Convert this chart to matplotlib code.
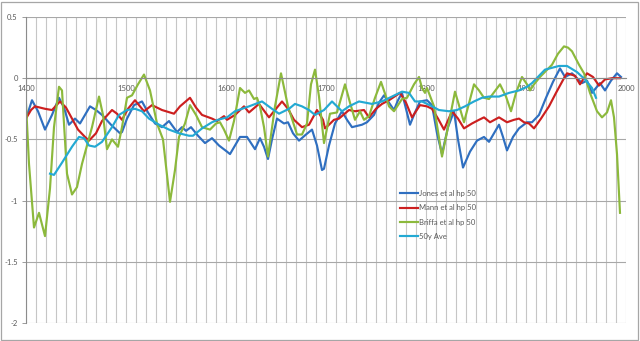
import numpy as np
import matplotlib
matplotlib.use("Agg")
import matplotlib.pyplot as plt
from matplotlib.patches import Rectangle

#################################################################
# series values (50 yr high-pass reconstructions + 50 yr average)
#################################################################

jones_years = [1400, 1406, 1412, 1419, 1426, 1433, 1438, 1443, 1449, 1454, 1459, 1464, 1470, 1476, 1485, 1494,
               1496, 1501, 1508, 1516, 1522, 1529, 1536, 1543, 1551, 1556, 1560, 1565, 1572, 1579, 1586, 1593,
               1601, 1604, 1609, 1614, 1621, 1629, 1634, 1638, 1642, 1646, 1651, 1658, 1662, 1667, 1673, 1680,
               1686, 1691, 1696, 1698, 1703, 1709, 1716, 1721, 1726, 1736, 1741, 1748, 1753, 1758, 1763, 1768,
               1772, 1776, 1780, 1784, 1789, 1794, 1801, 1806, 1811, 1816, 1822, 1828, 1832, 1837, 1844, 1851,
               1858, 1863, 1868, 1873, 1877, 1881, 1887, 1893, 1901, 1906, 1913, 1920, 1927, 1934, 1939, 1946,
               1951, 1956, 1961, 1966, 1974, 1979, 1985, 1991, 1995]
jones_vals = [-0.33, -0.18, -0.27, -0.42, -0.30, -0.16, -0.24, -0.38, -0.33, -0.37, -0.30, -0.23, -0.26, -0.30, -0.38, -0.45,
              -0.44, -0.33, -0.22, -0.19, -0.28, -0.37, -0.40, -0.35, -0.44, -0.40, -0.43, -0.40, -0.47, -0.53, -0.49, -0.55,
              -0.60, -0.62, -0.55, -0.48, -0.48, -0.58, -0.49, -0.56, -0.66, -0.50, -0.33, -0.37, -0.36, -0.45, -0.51, -0.46,
              -0.42, -0.55, -0.75, -0.74, -0.55, -0.37, -0.27, -0.34, -0.40, -0.38, -0.36, -0.30, -0.20, -0.14, -0.20, -0.26,
              -0.18, -0.12, -0.25, -0.38, -0.28, -0.19, -0.18, -0.22, -0.45, -0.62, -0.40, -0.27, -0.50, -0.73, -0.60, -0.51,
              -0.48, -0.52, -0.45, -0.38, -0.48, -0.59, -0.48, -0.41, -0.36, -0.36, -0.30, -0.16, -0.03, 0.08, 0.01, 0.04,
              0.00, -0.04, -0.02, -0.12, -0.04, -0.10, -0.02, 0.04, 0.01]

mann_years = [1400, 1405, 1409, 1419, 1426, 1434, 1440, 1446, 1452, 1459, 1463, 1470, 1476, 1486, 1491, 1496,
              1502, 1509, 1518, 1526, 1536, 1548, 1554, 1564, 1570, 1576, 1586, 1591, 1598, 1601, 1609, 1618,
              1623, 1633, 1643, 1650, 1656, 1662, 1668, 1676, 1683, 1691, 1697, 1699, 1703, 1708, 1713, 1723,
              1729, 1738, 1743, 1750, 1756, 1763, 1774, 1780, 1786, 1794, 1801, 1806, 1812, 1818, 1826, 1832,
              1838, 1846, 1853, 1858, 1864, 1873, 1881, 1888, 1893, 1898, 1903, 1908, 1915, 1923, 1930, 1938,
              1941, 1949, 1954, 1961, 1967, 1973, 1979, 1986, 1994]
mann_vals = [-0.33, -0.26, -0.23, -0.25, -0.26, -0.19, -0.24, -0.33, -0.42, -0.48, -0.51, -0.45, -0.35, -0.26, -0.29, -0.34,
             -0.25, -0.18, -0.27, -0.22, -0.26, -0.29, -0.23, -0.16, -0.24, -0.30, -0.33, -0.35, -0.31, -0.34, -0.30, -0.23,
             -0.28, -0.21, -0.32, -0.25, -0.19, -0.25, -0.34, -0.40, -0.38, -0.26, -0.34, -0.41, -0.38, -0.34, -0.33, -0.26,
             -0.27, -0.26, -0.32, -0.25, -0.21, -0.18, -0.12, -0.20, -0.32, -0.22, -0.23, -0.25, -0.33, -0.42, -0.27, -0.33,
             -0.41, -0.37, -0.34, -0.32, -0.36, -0.32, -0.36, -0.34, -0.33, -0.36, -0.37, -0.41, -0.33, -0.23, -0.12, 0.00,
             0.04, 0.02, -0.05, 0.04, 0.01, -0.06, -0.01, 0.00, 0.00]

briffa_years = [1400, 1403, 1408, 1413, 1419, 1424, 1428, 1433, 1436, 1441, 1446, 1451, 1456, 1461, 1466, 1473,
                1477, 1481, 1486, 1492, 1496, 1501, 1506, 1512, 1518, 1524, 1531, 1537, 1544, 1549, 1553, 1559,
                1564, 1570, 1576, 1584, 1590, 1594, 1598, 1603, 1608, 1614, 1619, 1623, 1628, 1631, 1634, 1638,
                1642, 1649, 1655, 1662, 1671, 1676, 1681, 1685, 1689, 1693, 1698, 1704, 1711, 1719, 1724, 1729,
                1734, 1738, 1743, 1749, 1755, 1760, 1763, 1768, 1776, 1781, 1788, 1793, 1796, 1799, 1801, 1808,
                1816, 1822, 1829, 1838, 1848, 1853, 1858, 1863, 1874, 1880, 1885, 1890, 1896, 1901, 1904, 1908,
                1914, 1926, 1932, 1938, 1942, 1946, 1953, 1958, 1964, 1971, 1976, 1981, 1985, 1988, 1991, 1994]
briffa_vals = [-0.21, -0.70, -1.22, -1.10, -1.29, -0.90, -0.40, -0.07, -0.10, -0.78, -0.95, -0.89, -0.70, -0.55, -0.40, -0.15,
               -0.30, -0.58, -0.50, -0.56, -0.40, -0.16, -0.14, -0.05, 0.03, -0.10, -0.37, -0.50, -1.01, -0.75, -0.48, -0.37,
               -0.22, -0.30, -0.40, -0.42, -0.37, -0.36, -0.42, -0.51, -0.35, -0.08, -0.12, -0.10, -0.17, -0.16, -0.23, -0.40,
               -0.64, -0.23, 0.04, -0.23, -0.46, -0.46, -0.37, -0.05, 0.07, -0.15, -0.53, -0.29, -0.28, -0.05, -0.20, -0.34,
               -0.27, -0.34, -0.31, -0.16, -0.03, -0.15, -0.23, -0.27, -0.17, -0.16, -0.05, 0.01, -0.08, -0.12, -0.08, -0.23,
               -0.64, -0.40, -0.11, -0.36, -0.05, -0.10, -0.16, -0.17, -0.05, -0.15, -0.27, -0.12, 0.01, -0.05, -0.10, -0.05,
               0.01, 0.11, 0.20, 0.26, 0.25, 0.22, 0.11, 0.04, -0.12, -0.27, -0.32, -0.28, -0.18, -0.32, -0.62, -1.10]

ave_years = [1424, 1428, 1436, 1446, 1453, 1458, 1463, 1469, 1476, 1486, 1493, 1501, 1509, 1516, 1523, 1533,
             1543, 1553, 1563, 1567, 1576, 1586, 1592, 1601, 1609, 1623, 1636, 1646, 1653, 1663, 1669, 1676,
             1683, 1689, 1698, 1706, 1716, 1723, 1733, 1746, 1756, 1766, 1776, 1783, 1789, 1796, 1806, 1813,
             1823, 1831, 1839, 1848, 1856, 1863, 1873, 1883, 1893, 1901, 1906, 1919, 1933, 1941, 1951, 1959,
             1966, 1970]
ave_vals = [-0.78, -0.79, -0.69, -0.56, -0.48, -0.49, -0.55, -0.56, -0.52, -0.40, -0.30, -0.26, -0.25, -0.27, -0.33, -0.38,
            -0.42, -0.45, -0.47, -0.47, -0.41, -0.36, -0.34, -0.32, -0.27, -0.23, -0.19, -0.25, -0.29, -0.25, -0.21, -0.23,
            -0.26, -0.30, -0.26, -0.19, -0.27, -0.23, -0.19, -0.21, -0.19, -0.15, -0.11, -0.12, -0.19, -0.19, -0.23, -0.26,
            -0.27, -0.26, -0.23, -0.19, -0.16, -0.15, -0.15, -0.12, -0.10, -0.07, -0.04, 0.07, 0.10, 0.10, 0.05, -0.01,
            -0.08, -0.16]

series_names = ["Jones et al hp 50", "Mann et al hp 50", "Briffa et al hp 50", "50y Ave"]
series_colors = ["#2f6fc0", "#cc1f1f", "#8cb93c", "#23a9d3"]

year_ticks = [1400, 1500, 1600, 1700, 1800, 1900, 2000]
val_ticks = [0.5, 0, -0.5, -1, -1.5, -2]

#################################################################
# plotting
#################################################################

plt.rcParams['font.family'] = ['Lato', 'DejaVu Sans']
txtCol = "#595959"
gridCol = "#c6c6c6"

fig = plt.figure(figsize=(6.4, 3.41), dpi=100)
ax = fig.add_axes([26/640, 1-323/341, 600/640, 306/341])

allData = [(jones_years, jones_vals), (mann_years, mann_vals),
           (briffa_years, briffa_vals), (ave_years, ave_vals)]
for (yrs, vals), name, col in zip(allData, series_names, series_colors):
	ax.plot(yrs, vals, color=col, lw=1.55, label=name, solid_joinstyle='round')

ax.set_xlim(1400, 2000)
ax.set_ylim(-2, 0.5)

#gridlines every decade, horizontal every 0.5
ax.set_xticks(year_ticks)
ax.set_xticks(np.arange(1400, 2001, 10), minor=True)
ax.set_yticks(val_ticks)
ax.set_yticklabels([f"{v:g}" for v in val_ticks])
ax.grid(True, which='both', axis='x', color=gridCol, lw=0.8)
ax.grid(True, which='major', axis='y', color="#a8a8a8", lw=0.8)
ax.set_axisbelow(True)

#x axis crosses at zero
ax.spines['bottom'].set_position(('data', 0))
for s in ['top', 'right']:
	ax.spines[s].set_visible(False)
for s in ['bottom', 'left']:
	ax.spines[s].set_color("#8c8c8c")
	ax.spines[s].set_linewidth(0.8)
ax.tick_params(axis='x', which='both', length=0, pad=5, labelsize=5.5, labelcolor=txtCol)
ax.tick_params(axis='y', length=3, width=0.6, color="#8c8c8c", pad=3, labelsize=5.5, labelcolor=txtCol)

leg = ax.legend(loc='upper left', bbox_to_anchor=(400/640, 1-190/341), bbox_transform=fig.transFigure,
	frameon=False, fontsize=5.5, handlelength=2.4, handletextpad=0.1, labelspacing=0.95,
	borderpad=0, borderaxespad=0)
for t in leg.get_texts():
	t.set_color(txtCol)

#chart area border
fig.patches.append(Rectangle((1/640, 1/341), 637/640, 338/341, transform=fig.transFigure,
	fill=False, ec="#a6a6a6", lw=0.9))

fig.savefig("out.png", dpi=100)
